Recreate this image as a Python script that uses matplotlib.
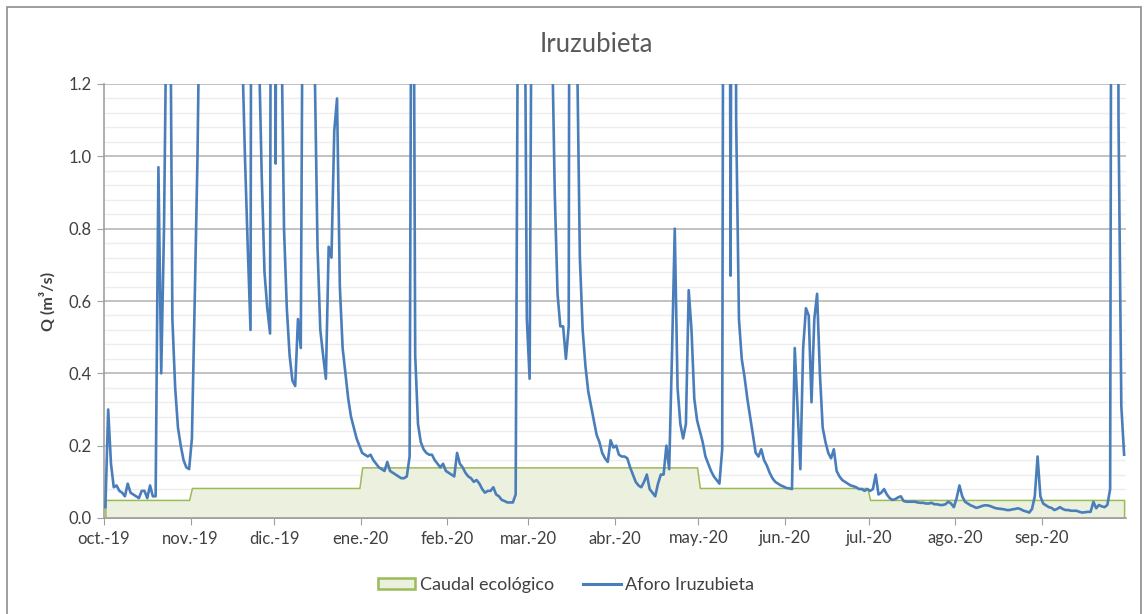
import matplotlib
matplotlib.use("Agg")
import matplotlib.pyplot as plt
import matplotlib.dates as mdates
from matplotlib.lines import Line2D
from matplotlib.patches import Patch, Rectangle
import numpy as np
import pandas as pd

plt.rcParams["font.family"] = ["Lato", "DejaVu Sans"]

START = "2019-10-01"
END = "2020-10-01"
MONTH_LABELS = ["oct.-19", "nov.-19", "dic.-19", "ene.-20", "feb.-20", "mar.-20",
                "abr.-20", "may.-20", "jun.-20", "jul.-20", "ago.-20", "sep.-20"]

# Daily flow at Iruzubieta gauge, m3/s (values above 1.2 run off the chart)
FLOW_OCT = [0.03, 0.30, 0.15, 0.085, 0.09, 0.075, 0.07, 0.06, 0.095, 0.07,
            0.065, 0.06, 0.055, 0.075, 0.075, 0.055, 0.09, 0.06, 0.06, 0.97,
            0.40, 0.8, 1.5, 1.8, 0.55, 0.36, 0.25, 0.2, 0.16, 0.14, 0.135]
FLOW_NOV = [0.22, 0.6, 1.0, 1.6, 3.0, 4.0, 3.5, 3.0, 2.5, 3.0,
            4.0, 3.5, 3.0, 2.5, 2.2, 2.5, 2.2, 1.8, 1.3, 1.0,
            0.75, 0.52, 5.0, 3.0, 1.3, 0.95, 0.68, 0.58, 0.51, 5.0]
FLOW_DEC = [0.98, 4.0, 1.4, 0.8, 0.58, 0.45, 0.38, 0.365, 0.55, 0.47,
            2.0, 3.0, 2.5, 2.0, 1.25, 0.75, 0.52, 0.45, 0.385, 0.75,
            0.72, 1.07, 1.16, 0.64, 0.47, 0.4, 0.33, 0.28, 0.25, 0.22, 0.2]
FLOW_JAN = [0.18, 0.175, 0.17, 0.175, 0.16, 0.15, 0.14, 0.135, 0.13, 0.155,
            0.13, 0.125, 0.12, 0.115, 0.11, 0.11, 0.115, 0.17, 2.5, 0.45,
            0.26, 0.21, 0.19, 0.18, 0.175, 0.175, 0.16, 0.15, 0.14, 0.15, 0.13]
FLOW_FEB = [0.125, 0.12, 0.115, 0.18, 0.15, 0.14, 0.125, 0.115, 0.11, 0.10,
            0.105, 0.095, 0.08, 0.07, 0.075, 0.075, 0.085, 0.065, 0.06, 0.05,
            0.047, 0.043, 0.043, 0.043, 0.065, 1.8, 3.0, 1.85, 0.55]
FLOW_MAR = [0.385, 2.0, 4.0, 5.0, 4.0, 3.0, 3.0, 2.5, 1.35, 0.9,
            0.62, 0.53, 0.53, 0.44, 0.53, 5.0, 3.0, 1.3, 0.72, 0.52,
            0.42, 0.35, 0.31, 0.27, 0.23, 0.21, 0.18, 0.165, 0.155, 0.215, 0.195]
FLOW_APR = [0.2, 0.175, 0.17, 0.17, 0.165, 0.14, 0.12, 0.1, 0.09, 0.085,
            0.1, 0.12, 0.08, 0.07, 0.06, 0.095, 0.12, 0.12, 0.2, 0.135,
            0.45, 0.8, 0.36, 0.26, 0.22, 0.26, 0.63, 0.52, 0.33, 0.27]
FLOW_MAY = [0.24, 0.21, 0.17, 0.15, 0.13, 0.115, 0.105, 0.095, 0.19, 4.0,
            4.0, 0.67, 4.0, 1.1, 0.55, 0.44, 0.39, 0.33, 0.28, 0.23,
            0.18, 0.17, 0.19, 0.16, 0.145, 0.125, 0.11, 0.1, 0.095, 0.09, 0.087]
FLOW_JUN = [0.083, 0.082, 0.08, 0.47, 0.3, 0.135, 0.47, 0.58, 0.56, 0.32,
            0.55, 0.62, 0.4, 0.25, 0.21, 0.18, 0.165, 0.19, 0.13, 0.115,
            0.105, 0.1, 0.095, 0.09, 0.088, 0.085, 0.08, 0.08, 0.075, 0.08]
FLOW_JUL = [0.075, 0.08, 0.12, 0.065, 0.07, 0.08, 0.065, 0.055, 0.05, 0.052,
            0.057, 0.06, 0.047, 0.045, 0.045, 0.045, 0.045, 0.043, 0.042, 0.042,
            0.04, 0.04, 0.042, 0.038, 0.038, 0.036, 0.036, 0.038, 0.045, 0.04, 0.03]
FLOW_AUG = [0.055, 0.09, 0.06, 0.045, 0.04, 0.035, 0.032, 0.028, 0.03, 0.033,
            0.035, 0.035, 0.033, 0.03, 0.027, 0.026, 0.025, 0.024, 0.022, 0.022,
            0.024, 0.025, 0.027, 0.024, 0.02, 0.018, 0.015, 0.025, 0.06, 0.17, 0.06]
FLOW_SEP = [0.04, 0.035, 0.03, 0.028, 0.022, 0.025, 0.03, 0.025, 0.022, 0.022,
            0.02, 0.02, 0.02, 0.017, 0.015, 0.016, 0.017, 0.017, 0.045, 0.027,
            0.036, 0.032, 0.03, 0.036, 0.08, 4.0, 4.0, 1.1, 0.31, 0.175]

# Ecological flow regime, m3/s, one value per month (oct -> sep)
ECO_MONTHLY = [0.05, 0.083, 0.083, 0.14, 0.14, 0.14, 0.14, 0.083, 0.083, 0.05, 0.05, 0.05]

BLUE = "#4A7EBB"
GREEN_EDGE = "#9BBB59"
GREEN_FILL = "#EBF1DE"
TEXT = "#404040"


def main():
    flow = np.array(FLOW_OCT + FLOW_NOV + FLOW_DEC + FLOW_JAN + FLOW_FEB + FLOW_MAR
                    + FLOW_APR + FLOW_MAY + FLOW_JUN + FLOW_JUL + FLOW_AUG + FLOW_SEP)
    days = pd.date_range(START, periods=len(flow), freq="D")
    months = pd.date_range(START, periods=12, freq="MS")
    eco = np.array([ECO_MONTHLY[(d.month - 10) % 12] for d in days])
    # Excel date axis draws each day in the middle of its slot
    x = mdates.date2num(days) + 0.5

    fig = plt.figure(figsize=(11.44, 6.14), dpi=100)
    ax = fig.add_axes([104 / 1144, 1 - 518 / 614, 1021.5 / 1144, 434 / 614])

    ax.fill_between(x, 0, eco, facecolor=GREEN_FILL, edgecolor=GREEN_EDGE,
                    lw=1.1, zorder=2)
    ax.plot(x, flow, color=BLUE, lw=1.9, zorder=3, solid_joinstyle="round")

    ax.set_xlim(mdates.date2num(pd.Timestamp(START)), mdates.date2num(pd.Timestamp(END)))
    ax.set_ylim(0, 1.2)
    ax.set_xticks(mdates.date2num(months))
    ax.set_xticklabels(MONTH_LABELS)
    ax.set_yticks(np.arange(0, 1.21, 0.2))
    ax.set_yticklabels([f"{v:.1f}" for v in np.arange(0, 1.21, 0.2)])
    ax.set_yticks(np.arange(0, 1.21, 0.04), minor=True)

    ax.set_axisbelow(True)
    ax.grid(axis="y", which="minor", color="#EDEDED", lw=1.0)
    ax.grid(axis="y", which="major", color="#B7B7B7", lw=1.2)
    ax.tick_params(axis="both", which="major", direction="out", length=5,
                   color="#A0A0A0", labelsize=12, labelcolor=TEXT, pad=4)
    ax.tick_params(axis="y", which="minor", length=0)
    for side in ("top", "right"):
        ax.spines[side].set_visible(False)
    for side in ("left", "bottom"):
        ax.spines[side].set_color("#A0A0A0")
        ax.spines[side].set_linewidth(1.2)

    ax.set_ylabel("Q (m³/s)", fontsize=11.5, fontweight="bold", color=TEXT,
                  labelpad=9)
    fig.text(596 / 1144, 1 - 45 / 614, "Iruzubieta", ha="center", va="center",
             fontsize=18.5, color="#595959")

    handles = [Patch(facecolor=GREEN_FILL, edgecolor=GREEN_EDGE, lw=1.8),
               Line2D([], [], color=BLUE, lw=2.2)]
    fig.legend(handles, ["Caudal ecológico", "Aforo Iruzubieta"], loc="center",
               bbox_to_anchor=(566 / 1144, 1 - 585 / 614), ncol=2, frameon=False,
               fontsize=13, handlelength=2.1, handleheight=0.55,
               handletextpad=0.25, columnspacing=1.6, labelcolor=TEXT)

    fig.add_artist(Rectangle((7 / 1144, -0.02), 1134 / 1144, 1 - 7 / 614 + 0.02,
                             transform=fig.transFigure, fill=False,
                             edgecolor="#8C8C8C", lw=1.2))

    fig.savefig("out.png", dpi=100)


if __name__ == "__main__":
    main()
